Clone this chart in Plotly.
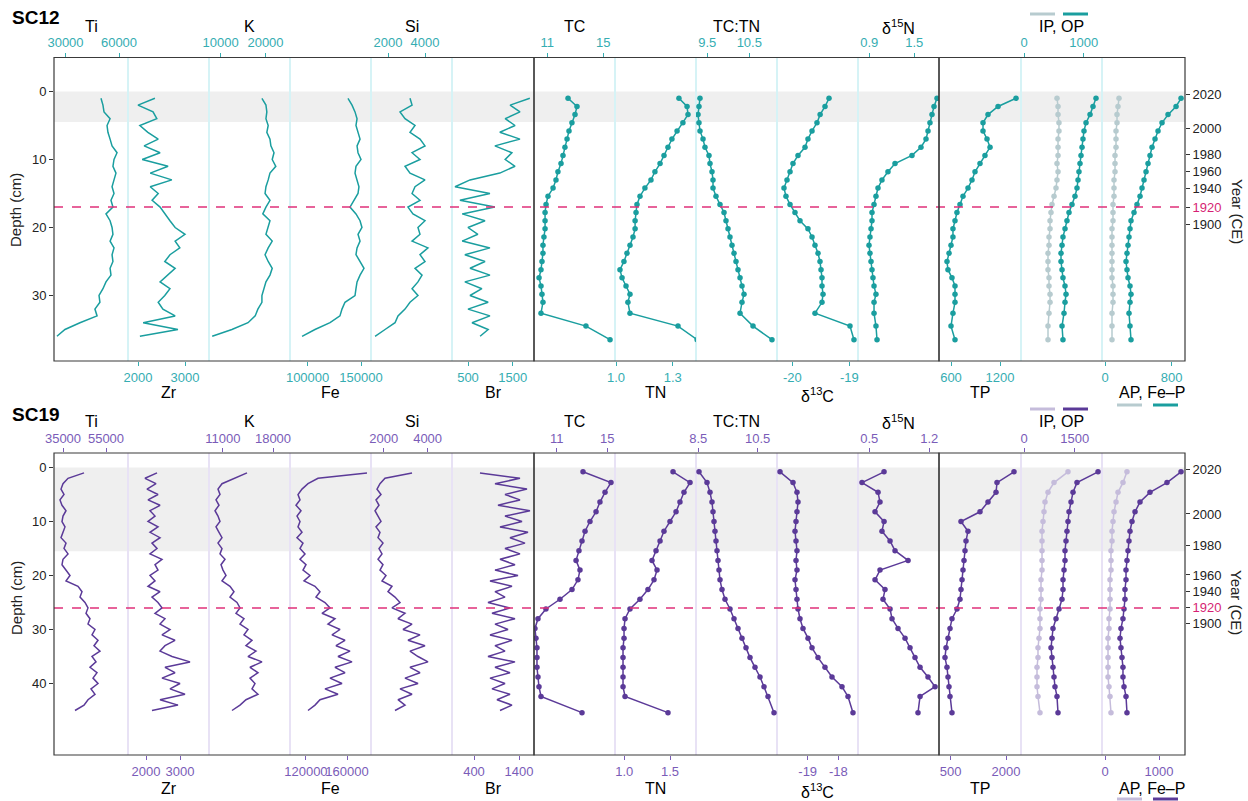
import plotly.graph_objects as go

W, H = 1248, 801
FONT = "Liberation Sans, Arial, Helvetica, sans-serif"

# ======================= SC12 data =======================
sc12_xrf_depth = list(range(1, 37))
sc12_Ti = [49900, 51000, 51600, 55000, 53300, 53800, 55000, 56100, 58900, 57200, 56600, 58300,
           57200, 56100, 57200, 55500, 56600, 52700, 55000, 56100, 56600, 55000, 57200, 56100,
           56600, 55000, 55500, 52700, 51000, 48800, 49300, 46500, 47700, 38100, 29700, 25200]
sc12_Zr = [2360, 2000, 2320, 2400, 2040, 2210, 2430, 2130, 2470, 2090, 2640, 2260,
           2720, 2260, 2430, 2300, 2470, 2570, 2680, 2790, 3000, 2790, 2890, 2680,
           2570, 2790, 2640, 2470, 2680, 2570, 2430, 2530, 2790, 2110, 2850, 2040]
sc12_K = [19200, 20100, 20300, 20100, 20600, 20300, 21000, 21200, 21900, 21500, 22300, 21000,
          20600, 20100, 19900, 21000, 20100, 19400, 21000, 20600, 20100, 21500, 20600, 19900,
          20600, 21500, 21000, 20100, 19700, 19200, 19200, 18300, 17700, 16100, 12500, 8100]
sc12_Fe = [137800, 141600, 144400, 146300, 145300, 147200, 149100, 146300, 147200, 150000, 145300, 144400,
           146300, 148100, 147200, 143400, 139700, 145300, 149100, 150900, 147200, 149100, 146300, 145300,
           149100, 152800, 149100, 146300, 145300, 144400, 135000, 132200, 130300, 121000, 106900, 94800]
sc12_Si = [3190, 3300, 2650, 2920, 3460, 3190, 3730, 4000, 3300, 3730, 2920, 3190,
           4000, 3460, 3300, 3730, 3080, 3350, 4000, 3620, 3730, 3300, 4160, 3730,
           4000, 3460, 3840, 3620, 3300, 3620, 3190, 2920, 2540, 2380, 1840, 1300]
sc12_Br = [1880, 1440, 1660, 1330, 1550, 1210, 1660, 1100, 1480, 1330, 1550, 1210,
           545, 210, 990, 320, 1100, 370, 880, 500, 720, 370, 990, 430,
           880, 545, 990, 430, 810, 545, 950, 500, 990, 590, 950, 770]

sc12_cn_depth = [1.0, 2.2, 3.4, 4.6, 5.8, 7.0, 8.2, 9.4, 10.6, 11.8, 13.0, 14.2, 15.4, 16.6, 17.8,
                 19.0, 20.2, 21.4, 22.6, 23.8, 25.0, 26.2, 27.4, 28.6, 29.8, 31.0, 32.6, 34.5, 36.5]
sc12_TC = [12.48, 13.12, 12.98, 12.76, 12.55, 12.41, 12.26, 12.12, 11.98, 11.76, 11.62, 11.41, 11.05, 10.91,
           10.84, 10.84, 10.84, 10.76, 10.69, 10.69, 10.62, 10.55, 10.41, 10.55, 10.62, 10.69, 10.55, 13.76, 15.48]
sc12_TN = [1.333, 1.376, 1.381, 1.354, 1.323, 1.296, 1.275, 1.254, 1.233, 1.206, 1.185, 1.153, 1.127, 1.111,
           1.106, 1.101, 1.101, 1.090, 1.074, 1.058, 1.042, 1.021, 1.032, 1.053, 1.074, 1.063, 1.074, 1.328, 1.429]
sc12_TCTN = [9.326, 9.302, 9.279, 9.302, 9.326, 9.398, 9.445, 9.540, 9.564, 9.612, 9.636, 9.636, 9.707, 9.802,
             9.898, 9.945, 9.993, 10.040, 10.088, 10.136, 10.183, 10.231, 10.279, 10.326, 10.374, 10.326,
             10.279, 10.588, 11.040]
sc12_d13C = [-19.356, -19.426, -19.512, -19.567, -19.654, -19.725, -19.777, -19.900, -19.988, -20.040,
             -20.093, -20.146, -20.111, -20.040, -19.953, -19.865, -19.725, -19.654, -19.602, -19.549,
             -19.514, -19.496, -19.479, -19.479, -19.461, -19.479, -19.602, -18.988, -18.918]
sc12_d15N = [1.803, 1.763, 1.736, 1.709, 1.683, 1.656, 1.589, 1.469, 1.243, 1.149, 1.069, 1.016, 0.989, 0.963,
             0.936, 0.936, 0.923, 0.909, 0.896, 0.909, 0.923, 0.936, 0.949, 0.963, 0.989, 0.963, 0.963, 0.989, 1.003]
sc12_TP = [1396, 1176, 1053, 992, 992, 1041, 1078, 1016, 955, 894, 857, 808, 747, 710, 673,
           649, 624, 624, 600, 576, 551, 563, 612, 649, 649, 649, 624, 600, 649]
sc12_IP = [553, 570, 570, 586, 586, 570, 570, 570, 553, 570, 553, 536, 503, 469, 452,
           436, 436, 419, 419, 402, 402, 402, 419, 419, 436, 436, 419, 402, 402]
sc12_OP = [1206, 1156, 1106, 1039, 1005, 988, 972, 955, 938, 921, 905, 888, 854, 804, 754,
           720, 687, 653, 637, 620, 620, 637, 653, 687, 704, 687, 670, 637, 653]
sc12_AP = [168, 156, 144, 144, 132, 132, 132, 120, 120, 120, 108, 108, 108, 96, 96,
           96, 84, 84, 84, 84, 84, 84, 84, 96, 96, 96, 84, 84, 84]
sc12_FeP = [912, 852, 756, 684, 636, 600, 564, 540, 516, 492, 468, 444, 420, 384, 348,
            312, 300, 288, 276, 264, 252, 264, 276, 300, 312, 300, 288, 300, 312]
sc12_year_depth = [0.5, 5.4, 9.3, 11.8, 14.3, 17.0, 19.6]
sc12_band = [0.0, 4.5]
sc12_1920 = 17.0

# ======================= SC19 data =======================
sc19_xrf_depth = list(range(1, 46))
sc19_Ti = [44770, 37330, 35000, 34070, 35470, 33600, 34530, 36400, 35000, 34530, 35930, 35000, 34070, 36400, 35470,
           37330, 35000, 34530, 36400, 38260, 36400, 41980, 43840, 42910, 45230, 46630, 45700, 47560, 46630, 49880,
           48490, 51280, 49420, 52210, 48490, 50350, 47560, 50810, 48950, 51280, 48020, 49880, 46630, 44770, 40580]
sc19_Zr = [2324, 1971, 2294, 2029, 2353, 2059, 2412, 2118, 2265, 2059, 2353, 2118, 2412, 2176, 2324,
           2118, 2471, 2265, 2353, 2118, 2265, 2059, 2412, 2176, 2353, 2471, 2265, 2559, 2412, 2706,
           2471, 2853, 2559, 2412, 2765, 3294, 2559, 2853, 2471, 3000, 2706, 3147, 2412, 2941, 2176]
sc19_K = [14373, 12701, 10888, 10331, 10610, 10052, 10470, 9913, 10331, 10610, 10052, 10470, 10888, 10331, 10888,
          10610, 11307, 10749, 11028, 11446, 10888, 12004, 12561, 12004, 12980, 13398, 12840, 13955, 13398, 14513,
          13955, 15071, 14234, 15628, 14513, 16464, 14792, 15907, 14792, 15489, 15071, 15907, 14234, 13398, 12282]
sc19_Fe = [179462, 131777, 122044, 116205, 112312, 114258, 110365, 115231, 111338, 114258, 112312, 116205, 111338,
           117178, 114258, 119124, 114258, 120097, 117178, 123990, 118151, 128856, 133722, 129829, 138588, 143454,
           135669, 148320, 141507, 153186, 145401, 158052, 149293, 162918, 151239, 164865, 148320, 158052, 143454,
           155133, 138588, 151239, 133722, 128856, 122044]
sc19_Si = [3288, 2055, 1826, 1690, 1872, 1644, 1781, 1598, 1735, 1872, 1644, 1826, 1735, 1963, 1781,
           1918, 1735, 1963, 1826, 2100, 1918, 2374, 2192, 2511, 2740, 2374, 2968, 2648, 3288, 2877,
           3653, 3105, 3881, 3196, 3562, 4018, 3196, 3653, 2968, 3562, 2740, 3288, 2648, 2968, 2511]
sc19_Br = [533, 1422, 867, 1578, 1089, 1422, 933, 1644, 1089, 1467, 978, 1600, 1200, 1533, 1089,
           1422, 978, 1311, 867, 1378, 756, 1244, 867, 1089, 711, 1200, 800, 1311, 867, 1156,
           756, 1244, 867, 1089, 711, 1311, 867, 1200, 756, 1089, 800, 1200, 911, 1244, 978]

sc19_cn_depth = [0.8, 2.8, 4.6, 6.4, 8.2, 10.0, 11.8, 13.6, 15.4, 17.2, 19.0, 20.8, 22.6, 24.4, 26.2,
                 28.0, 29.8, 31.6, 33.4, 35.2, 37.0, 38.8, 40.6, 42.4, 45.4]
sc19_TC = [13.08, 15.29, 14.82, 14.42, 14.11, 13.63, 13.24, 13.00, 12.76, 12.53, 12.84, 12.68, 12.21,
           11.26, 10.15, 9.52, 9.28, 9.36, 9.44, 9.44, 9.44, 9.52, 9.60, 9.76, 13.00]
sc19_TN = [1.533, 1.719, 1.653, 1.609, 1.566, 1.500, 1.434, 1.391, 1.347, 1.303, 1.358, 1.325, 1.259,
           1.171, 1.062, 1.008, 0.997, 0.997, 0.986, 0.986, 0.986, 0.986, 0.986, 1.008, 1.478]
sc19_TCTN = [8.524, 8.793, 8.894, 8.961, 8.995, 9.029, 9.062, 9.096, 9.130, 9.163, 9.197, 9.231, 9.298,
             9.399, 9.567, 9.702, 9.837, 9.971, 10.106, 10.241, 10.409, 10.577, 10.712, 10.847, 11.049]
sc19_d13C = [-19.905, -19.480, -19.350, -19.317, -19.350, -19.382, -19.415, -19.382, -19.350, -19.382,
             -19.350, -19.415, -19.382, -19.350, -19.317, -19.252, -19.154, -18.990, -18.859, -18.663,
             -18.435, -18.206, -17.879, -17.683, -17.520]
sc19_d15N = [0.672, 0.415, 0.602, 0.625, 0.567, 0.672, 0.648, 0.742, 0.800, 0.952, 0.625, 0.567, 0.683,
             0.660, 0.742, 0.765, 0.835, 0.917, 0.975, 1.033, 1.092, 1.185, 1.267, 1.092, 1.068]
sc19_TP = [2217, 1756, 1729, 1512, 1295, 779, 969, 915, 888, 861, 834, 807, 779, 752, 671,
           535, 481, 427, 373, 345, 399, 427, 454, 481, 535]
sc19_IP = [1302, 888, 710, 621, 592, 562, 533, 533, 533, 533, 533, 503, 503, 503, 473,
           473, 473, 444, 414, 414, 385, 385, 385, 414, 473]
sc19_OP = [2190, 1568, 1450, 1391, 1332, 1302, 1272, 1243, 1213, 1213, 1184, 1154, 1154, 1124, 1036,
           947, 858, 829, 799, 829, 858, 888, 917, 976, 1006]
sc19_AP = [407, 333, 241, 204, 167, 148, 130, 130, 111, 111, 111, 93, 93, 93, 93,
           74, 74, 56, 56, 56, 56, 56, 74, 93, 111]
sc19_FeP = [1408, 1148, 833, 648, 556, 500, 463, 444, 426, 407, 389, 389, 370, 370, 352,
            333, 296, 278, 296, 315, 333, 333, 352, 389, 407]
sc19_year_depth = [0.3, 8.6, 14.5, 19.9, 22.9, 26.0, 28.8]
sc19_band = [0.0, 15.5]
sc19_1920 = 26.0

year_labels = ["2020", "2000", "1980", "1960", "1940", "1920", "1900"]

# tick values / labels per axis
sc12_ticks = {
    "Ti": ([30000, 60000], ["30000", "60000"]), "Zr": ([2000, 3000], ["2000", "3000"]),
    "K": ([10000, 20000], ["10000", "20000"]), "Fe": ([100000, 150000], ["100000", "150000"]),
    "Si": ([2000, 4000], ["2000", "4000"]), "Br": ([500, 1500], ["500", "1500"]),
    "TC": ([11, 15], ["11", "15"]), "TN": ([1.0, 1.3], ["1.0", "1.3"]),
    "TCTN": ([9.5, 10.5], ["9.5", "10.5"]), "d13C": ([-20, -19], ["-20", "-19"]),
    "d15N": ([0.9, 1.5], ["0.9", "1.5"]), "TP": ([600, 1200], ["600", "1200"]),
    "IPOP": ([0, 1000], ["0", "1000"]), "APFeP": ([0, 800], ["0", "800"]),
}
sc19_ticks = {
    "Ti": ([35000, 55000], ["35000", "55000"]), "Zr": ([2000, 3000], ["2000", "3000"]),
    "K": ([11000, 18000], ["11000", "18000"]), "Fe": ([120000, 160000], ["120000", "160000"]),
    "Si": ([2000, 4000], ["2000", "4000"]), "Br": ([400, 1400], ["400", "1400"]),
    "TC": ([11, 15], ["11", "15"]), "TN": ([1.0, 1.5], ["1.0", "1.5"]),
    "TCTN": ([8.5, 10.5], ["8.5", "10.5"]), "d13C": ([-19, -18], ["-19", "-18"]),
    "d15N": ([0.5, 1.2], ["0.5", "1.2"]), "TP": ([500, 2000], ["500", "2000"]),
    "IPOP": ([0, 1500], ["0", "1500"]), "APFeP": ([0, 1000], ["0", "1000"]),
}

# ======================= layout geometry (pixels) =======================
COLS = [(54, 128), (128, 209), (209, 290), (290, 371), (371, 452), (452, 534),
        (534, 615), (615, 696), (696, 777), (777, 858), (858, 939),
        (939, 1021), (1021, 1102), (1102, 1185)]
BOXES = [(54, 534), (534, 939), (939, 1185)]
SEPS = [128, 209, 290, 371, 452, 615, 696, 777, 858, 1021, 1102]
ORDER = ["Ti", "Zr", "K", "Fe", "Si", "Br", "TC", "TN", "TCTN", "d13C", "d15N", "TP", "IPOP", "APFeP"]
SIDES = ["top", "bottom", "top", "bottom", "top", "bottom",
         "top", "bottom", "top", "bottom", "top",
         "bottom", "top", "bottom"]
TITLES = {"Ti": "Ti", "Zr": "Zr", "K": "K", "Fe": "Fe", "Si": "Si", "Br": "Br", "TC": "TC", "TN": "TN",
          "TCTN": "TC:TN", "d13C": "δ<sup>13</sup>C", "d15N": "δ<sup>15</sup>N", "TP": "TP",
          "IPOP": "IP, OP", "APFeP": "AP, Fe–P"}

def px(x):
    return x / W

def py(y):
    return 1 - y / H

panels = [
    dict(name="SC12", top=57.5, bottom=361, d0=91.5, ppc=6.8, label_y=17,
         title_top=27, title_bot=392, leg_top=14, leg_bot=405,
         line="#1a9e9f", tick="#35adb2", light="#b7cbcf", sep="#d6f3f6",
         ticks=sc12_ticks,
         tickpx={"Ti": (65.5, 119), "Zr": (138, 185), "K": (220.7, 265.5), "Fe": (307.6, 361),
                 "Si": (388, 425), "Br": (468, 512.8), "TC": (547.3, 603.3), "TN": (616, 672.7),
                 "TCTN": (707.3, 749.3), "d13C": (792.3, 849.3), "d15N": (869.3, 914.3),
                 "TP": (951, 1000), "IPOP": (1024, 1083.7), "APFeP": (1105, 1171.7)},
         xrf_depth=sc12_xrf_depth, cn_depth=sc12_cn_depth,
         data={"Ti": sc12_Ti, "Zr": sc12_Zr, "K": sc12_K, "Fe": sc12_Fe, "Si": sc12_Si, "Br": sc12_Br,
               "TC": sc12_TC, "TN": sc12_TN, "TCTN": sc12_TCTN, "d13C": sc12_d13C, "d15N": sc12_d15N,
               "TP": sc12_TP, "IP": sc12_IP, "OP": sc12_OP, "AP": sc12_AP, "FeP": sc12_FeP},
         year_depth=sc12_year_depth, band=sc12_band, d1920=sc12_1920,
         dticks=[0, 10, 20, 30], depth_title_y=210, year_title_y=211),
    dict(name="SC19", top=453, bottom=755, d0=467.5, ppc=5.4, label_y=414,
         title_top=422, title_bot=788, leg_top=409, leg_bot=799,
         line="#5b3a98", tick="#7a5cb8", light="#c5bcdb", sep="#e8e2f5",
         ticks=sc19_ticks,
         tickpx={"Ti": (63, 106), "Zr": (146, 180), "K": (222.8, 273), "Fe": (305.9, 347),
                 "Si": (383.8, 427.6), "Br": (474, 519), "TC": (556.7, 607.3), "TN": (624.3, 670),
                 "TCTN": (698.3, 757.7), "d13C": (807.7, 838.3), "d15N": (869.3, 929.3),
                 "TP": (950.7, 1006), "IPOP": (1024, 1074.7), "APFeP": (1105, 1159)},
         xrf_depth=sc19_xrf_depth, cn_depth=sc19_cn_depth,
         data={"Ti": sc19_Ti, "Zr": sc19_Zr, "K": sc19_K, "Fe": sc19_Fe, "Si": sc19_Si, "Br": sc19_Br,
               "TC": sc19_TC, "TN": sc19_TN, "TCTN": sc19_TCTN, "d13C": sc19_d13C, "d15N": sc19_d15N,
               "TP": sc19_TP, "IP": sc19_IP, "OP": sc19_OP, "AP": sc19_AP, "FeP": sc19_FeP},
         year_depth=sc19_year_depth, band=sc19_band, d1920=sc19_1920,
         dticks=[0, 10, 20, 30, 40], depth_title_y=598, year_title_y=602),
]

fig = go.Figure()
layout = dict(template="none", width=W, height=H, autosize=False,
              margin=dict(l=0, r=0, t=0, b=0, pad=0),
              paper_bgcolor="white", plot_bgcolor="rgba(0,0,0,0)", showlegend=False,
              font=dict(family=FONT, size=13, color="#222"))
shapes = []
annotations = []

for pi, P in enumerate(panels):
    ynum = 1 + 2 * pi
    yname = "y" if ynum == 1 else f"y{ynum}"
    ykey = "yaxis" if ynum == 1 else f"yaxis{ynum}"
    yrname = f"y{ynum + 1}"
    yrkey = f"yaxis{ynum + 1}"
    top_d = (P["top"] - P["d0"]) / P["ppc"]
    bot_d = (P["bottom"] - P["d0"]) / P["ppc"]
    yrange = [bot_d, top_d]
    ydom = [py(P["bottom"]), py(P["top"])]
    first_x = "x" if pi == 0 else f"x{pi * 14 + 1}"
    last_x = f"x{pi * 14 + 14}"

    # background band and separators
    shapes.append(dict(type="rect", xref="paper", yref=yname, x0=px(54), x1=px(1185),
                       y0=P["band"][0], y1=P["band"][1], fillcolor="#efefef", line=dict(width=0),
                       layer="below"))
    for s in SEPS:
        shapes.append(dict(type="line", xref="paper", yref="paper", x0=px(s), x1=px(s),
                           y0=ydom[0], y1=ydom[1], line=dict(color=P["sep"], width=2), layer="below"))

    for ci, key in enumerate(ORDER):
        n = pi * 14 + ci + 1
        xname = "x" if n == 1 else f"x{n}"
        xkey = "xaxis" if n == 1 else f"xaxis{n}"
        a, b = COLS[ci]
        (v1, v2), labels = P["ticks"][key]
        p1, p2 = P["tickpx"][key]
        s = (v2 - v1) / (p2 - p1)
        layout[xkey] = dict(domain=[px(a), px(b)], range=[v1 + (a - p1) * s, v1 + (b - p1) * s],
                            anchor=yname, side=SIDES[ci], tickvals=[v1, v2], ticktext=labels,
                            ticks="outside", ticklen=4, tickwidth=1, tickcolor=P["tick"],
                            tickangle=0, automargin=False,
                            tickfont=dict(size=13, color=P["tick"], family=FONT),
                            showgrid=False, zeroline=False, showline=False, fixedrange=True)
        D = P["data"]
        if ci < 6:
            fig.add_trace(go.Scatter(x=D[key], y=P["xrf_depth"], xaxis=xname, yaxis=yname,
                                     mode="lines", line=dict(color=P["line"], width=1.5),
                                     hoverinfo="skip"))
        elif key == "IPOP":
            fig.add_trace(go.Scatter(x=D["IP"], y=P["cn_depth"], xaxis=xname, yaxis=yname,
                                     mode="lines+markers", line=dict(color=P["light"], width=1.5),
                                     marker=dict(size=5.5, color=P["light"]), hoverinfo="skip"))
            fig.add_trace(go.Scatter(x=D["OP"], y=P["cn_depth"], xaxis=xname, yaxis=yname,
                                     mode="lines+markers", line=dict(color=P["line"], width=1.5),
                                     marker=dict(size=5.5, color=P["line"]), hoverinfo="skip"))
        elif key == "APFeP":
            fig.add_trace(go.Scatter(x=D["AP"], y=P["cn_depth"], xaxis=xname, yaxis=yname,
                                     mode="lines+markers", line=dict(color=P["light"], width=1.5),
                                     marker=dict(size=5.5, color=P["light"]), hoverinfo="skip"))
            fig.add_trace(go.Scatter(x=D["FeP"], y=P["cn_depth"], xaxis=xname, yaxis=yname,
                                     mode="lines+markers", line=dict(color=P["line"], width=1.5),
                                     marker=dict(size=5.5, color=P["line"]), hoverinfo="skip"))
        else:
            fig.add_trace(go.Scatter(x=D[key], y=P["cn_depth"], xaxis=xname, yaxis=yname,
                                     mode="lines+markers", line=dict(color=P["line"], width=1.5),
                                     marker=dict(size=5.5, color=P["line"]), hoverinfo="skip"))

        # axis title
        ty = P["title_top"] if SIDES[ci] == "top" else P["title_bot"]
        tx = (a + b) / 2 if key != "APFeP" else 1152
        if key == "d13C":
            ty += 3
        annotations.append(dict(xref="paper", yref="paper", x=px(tx), y=py(ty), text=TITLES[key],
                                showarrow=False, xanchor="center", yanchor="middle",
                                font=dict(size=16, color="black", family=FONT)))

    # legend segments
    ly = P["leg_top"]
    shapes.append(dict(type="line", xref="paper", yref="paper", x0=px(1030), x1=px(1055),
                       y0=py(ly), y1=py(ly), line=dict(color=P["light"], width=3)))
    shapes.append(dict(type="line", xref="paper", yref="paper", x0=px(1063), x1=px(1088),
                       y0=py(ly), y1=py(ly), line=dict(color=P["line"], width=3)))
    ly = P["leg_bot"]
    shapes.append(dict(type="line", xref="paper", yref="paper", x0=px(1117), x1=px(1142),
                       y0=py(ly), y1=py(ly), line=dict(color=P["light"], width=3)))
    shapes.append(dict(type="line", xref="paper", yref="paper", x0=px(1153), x1=px(1178),
                       y0=py(ly), y1=py(ly), line=dict(color=P["line"], width=3)))

    # 1920 dashed line
    shapes.append(dict(type="line", xref="paper", yref=yname, x0=px(54), x1=px(1185),
                       y0=P["d1920"], y1=P["d1920"], line=dict(color="#e0307a", width=1.5, dash="dash")))
    # boxes
    for (a, b) in BOXES:
        shapes.append(dict(type="rect", xref="paper", yref="paper", x0=px(a), x1=px(b),
                           y0=ydom[0], y1=ydom[1], line=dict(color="#3a3a3a", width=1.2),
                           fillcolor="rgba(0,0,0,0)"))

    # y axes
    layout[ykey] = dict(domain=ydom, range=yrange, anchor=first_x, side="left",
                        tickvals=P["dticks"], ticks="outside", ticklen=4, tickcolor="#333",
                        automargin=False,
                        tickfont=dict(size=13, color="#222", family=FONT),
                        showgrid=False, zeroline=False, showline=False, fixedrange=True)
    ytext = [f'<span style="color:#d61f74">{t}</span>' if t == "1920" else t for t in year_labels]
    layout[yrkey] = dict(overlaying=yname, range=yrange, anchor=last_x, side="right",
                         tickvals=P["year_depth"], ticktext=ytext, ticks="outside", ticklen=4,
                         automargin=False,
                         tickcolor="#333", tickfont=dict(size=13, color="#222", family=FONT),
                         showgrid=False, zeroline=False, showline=False, fixedrange=True)
    fig.add_trace(go.Scatter(x=[], y=[], xaxis=last_x, yaxis=yrname, mode="markers",
                             hoverinfo="skip"))

    annotations.append(dict(xref="paper", yref="paper", x=px(10), y=py(P["label_y"]), text=f"<b>{P['name']}</b>",
                            showarrow=False, xanchor="left", yanchor="middle",
                            font=dict(size=19, color="black", family=FONT)))
    annotations.append(dict(xref="paper", yref="paper", x=px(16), y=py(P["depth_title_y"]),
                            text="Depth (cm)", textangle=-90, showarrow=False,
                            xanchor="center", yanchor="middle",
                            font=dict(size=15, color="#222", family=FONT)))
    annotations.append(dict(xref="paper", yref="paper", x=px(1237), y=py(P["year_title_y"]),
                            text="Year (CE)", textangle=90, showarrow=False,
                            xanchor="center", yanchor="middle",
                            font=dict(size=15, color="#222", family=FONT)))

layout["shapes"] = shapes
layout["annotations"] = annotations
fig.update_layout(**layout)
fig.write_html("out.html", config={"responsive": False, "displayModeBar": False},
               post_script="document.body.style.margin='0';document.body.style.overflow='hidden';")
